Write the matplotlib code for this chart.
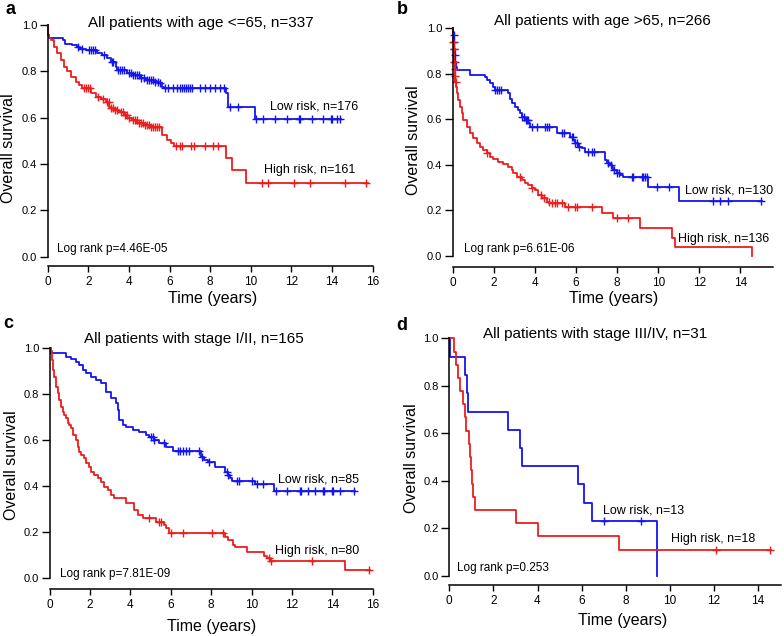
import numpy as np
import matplotlib
matplotlib.use("Agg")
import matplotlib.pyplot as plt

plt.rcParams['font.family'] = ['Liberation Sans', 'DejaVu Sans']

BLUE = "#1414f0"
RED = "#ee1c1c"

# ---- panel a: age <= 65 ----
a_low_t = [0.01, 0.02, 0.03, 0.04, 0.75, 0.85, 1.2, 1.46, 1.6, 1.9, 2.44, 2.69, 2.94, 3.1, 3.35, 3.43,
           3.92, 4.17, 4.58, 4.82, 5.23, 5.48, 5.64, 5.73, 8.8, 8.9, 10.21]
a_low_s = [0.985, 0.97, 0.955, 0.945, 0.935, 0.92, 0.915, 0.906, 0.898, 0.89, 0.878, 0.871, 0.856, 0.842,
           0.82, 0.806, 0.791, 0.784, 0.77, 0.763, 0.755, 0.748, 0.734, 0.73, 0.705, 0.645, 0.593]
a_low_end = 14.44
a_low_cens = [1.5, 1.7, 2.05, 2.15, 2.25, 2.35, 2.75, 3.15, 3.2, 3.45, 3.55, 3.65, 3.75, 4.0, 4.1, 4.2,
              4.3, 4.4, 4.5, 4.6, 4.75, 4.9, 5.0, 5.1, 5.2, 5.3, 5.45, 5.55, 5.78, 5.94, 6.19, 6.35,
              6.5, 6.6, 6.7, 6.8, 6.9, 7.0, 7.1, 7.5, 7.74, 7.99, 8.23, 8.48, 8.68, 8.98, 9.35,
              10.26, 10.62, 11.19, 11.77, 12.37, 12.41, 13.0, 13.57, 13.94, 13.98, 14.23, 14.39]
a_high_t = [0.01, 0.02, 0.03, 0.05, 0.15, 0.31, 0.48, 0.64, 0.8, 0.97, 1.13, 1.38, 1.54, 1.71, 2.12,
            2.36, 2.61, 2.86, 3.02, 3.1, 3.27, 3.51, 3.76, 3.92, 4.17, 4.41, 4.74, 5.07, 5.64, 5.89,
            6.06, 6.22, 8.76, 9.06, 9.75]
a_high_s = [0.985, 0.97, 0.955, 0.945, 0.935, 0.906, 0.878, 0.849, 0.82, 0.8, 0.777, 0.755, 0.741,
            0.727, 0.705, 0.691, 0.681, 0.669, 0.647, 0.64, 0.633, 0.626, 0.612, 0.597, 0.59, 0.578,
            0.568, 0.561, 0.525, 0.504, 0.489, 0.478, 0.425, 0.374, 0.319]
a_high_end = 15.78
a_high_cens = [1.8, 1.9, 2.0, 2.1, 2.5, 2.7, 2.9, 3.0, 3.1, 3.2, 3.3, 3.4, 3.6, 3.7, 3.8, 3.9, 4.0,
               4.2, 4.3, 4.4, 4.5, 4.6, 4.7, 4.8, 4.9, 5.0, 5.1, 5.2, 5.3, 5.4, 5.5, 6.3, 6.5, 6.6,
               7.05, 7.2, 7.74, 8.15, 8.4, 10.57, 10.83, 12.14, 12.93, 14.64, 15.66]

# ---- panel b: age > 65 ----
b_low_t = [0.02, 0.04, 0.06, 0.08, 0.1, 0.14, 0.2, 0.83, 1.56, 1.65, 1.8, 1.97, 2.03, 2.7, 2.78, 2.86,
           3.02, 3.18, 3.26, 3.35, 3.51, 3.67, 3.75, 5.05, 5.7, 5.86, 5.94, 6.1, 6.27, 6.43, 7.4, 7.5,
           7.65, 7.75, 7.81, 8.0, 8.15, 8.3, 9.49, 11.03]
b_low_s = [0.97, 0.94, 0.91, 0.88, 0.85, 0.83, 0.816, 0.795, 0.787, 0.772, 0.757, 0.743, 0.728, 0.713,
           0.69, 0.67, 0.655, 0.64, 0.626, 0.611, 0.596, 0.582, 0.567, 0.538, 0.523, 0.509, 0.494,
           0.48, 0.472, 0.458, 0.421, 0.41, 0.4, 0.39, 0.377, 0.365, 0.355, 0.348, 0.304, 0.241]
b_low_end = 15.04
b_low_cens = [0.03, 0.05, 0.07, 0.09, 0.12, 2.05, 2.15, 2.25, 2.35, 3.35, 3.45, 3.55, 3.6, 3.65,
              3.85, 4.1, 4.5, 4.6, 4.7, 5.3, 5.4, 5.8, 5.85, 5.95, 6.05, 6.15, 6.6, 6.75, 6.85,
              7.55, 7.7, 7.85, 8.0, 8.1, 8.7, 8.79, 9.19, 9.27, 9.35, 9.44, 9.92, 10.54, 12.69,
              13.0, 13.42, 15.0]
b_high_t = [0.01, 0.02, 0.03, 0.05, 0.06, 0.08, 0.1, 0.12, 0.14, 0.18, 0.26, 0.34, 0.42, 0.5, 0.67,
            0.83, 0.99, 1.15, 1.32, 1.48, 1.64, 1.8, 1.97, 2.21, 2.45, 2.7, 2.86, 2.94, 3.1, 3.35,
            3.51, 3.67, 3.83, 3.99, 4.15, 4.32, 4.56, 4.7, 5.46, 7.28, 7.8, 9.11, 10.65, 10.81, 14.55]
b_high_s = [0.97, 0.94, 0.91, 0.88, 0.85, 0.82, 0.79, 0.765, 0.743, 0.713, 0.684, 0.655, 0.626,
            0.596, 0.567, 0.538, 0.516, 0.494, 0.48, 0.465, 0.45, 0.436, 0.424, 0.414, 0.404, 0.392,
            0.377, 0.363, 0.348, 0.333, 0.319, 0.311, 0.297, 0.289, 0.268, 0.253, 0.238, 0.231,
            0.216, 0.19, 0.165, 0.121, 0.077, 0.041, 0.0]
b_high_end = 14.55
b_high_cens = [0.02, 0.04, 0.07, 0.09, 0.11, 0.13, 1.68, 3.25, 3.83, 4.3, 4.45, 4.66, 4.82, 4.98,
               5.06, 5.31, 5.62, 5.94, 6.03, 6.76, 7.97, 8.54]

# ---- panel c: stage I/II ----
c_low_t = [0.07, 0.81, 1.06, 1.3, 1.47, 1.63, 1.8, 2.05, 2.3, 2.54, 2.79, 3.04, 3.29, 3.37, 3.45,
           3.62, 3.78, 4.11, 4.44, 4.77, 4.94, 5.19, 5.43, 5.76, 6.09, 7.5, 7.65, 7.83, 8.19, 8.69,
           8.85, 8.93, 9.02, 10.17, 11.11]
c_low_s = [0.98, 0.962, 0.951, 0.94, 0.926, 0.904, 0.89, 0.876, 0.861, 0.847, 0.81, 0.781, 0.76,
           0.731, 0.687, 0.666, 0.656, 0.644, 0.637, 0.622, 0.615, 0.6, 0.586, 0.572, 0.552, 0.528,
           0.514, 0.507, 0.485, 0.463, 0.449, 0.434, 0.424, 0.41, 0.38]
c_low_end = 15.1
c_low_cens = [5.02, 5.1, 5.19, 5.68, 6.34, 6.45, 6.6, 6.75, 6.92, 7.41, 7.55, 7.9, 8.77, 8.85, 9.26,
              9.4, 10.0, 10.25, 10.55, 11.21, 11.77, 12.4, 12.43, 12.81, 13.14, 13.52, 13.59,
              13.97, 14.02, 14.38, 15.08]
c_high_t = [0.05, 0.12, 0.15, 0.23, 0.31, 0.4, 0.48, 0.56, 0.64, 0.73, 0.81, 0.89, 0.97, 1.06, 1.14,
            1.3, 1.39, 1.47, 1.55, 1.72, 1.8, 1.97, 2.05, 2.21, 2.38, 2.54, 2.71, 2.88, 3.04, 3.2,
            3.78, 4.19, 4.36, 4.6, 5.27, 5.68, 5.76, 5.93, 8.69, 8.85, 9.1, 9.2, 9.76, 10.62, 10.75,
            10.92, 14.63]
c_high_s = [0.985, 0.948, 0.904, 0.876, 0.832, 0.803, 0.774, 0.745, 0.724, 0.71, 0.695, 0.673,
            0.666, 0.651, 0.622, 0.6, 0.571, 0.55, 0.535, 0.521, 0.499, 0.485, 0.463, 0.449, 0.434,
            0.42, 0.398, 0.383, 0.362, 0.347, 0.326, 0.297, 0.275, 0.26, 0.246, 0.232, 0.217, 0.195,
            0.181, 0.166, 0.145, 0.137, 0.116, 0.097, 0.087, 0.077, 0.036]
c_high_end = 15.84
c_high_cens = [4.94, 5.4, 5.5, 6.01, 6.59, 8.03, 8.6, 10.88, 10.95, 12.98, 15.79]

# ---- panel d: stage III/IV ----
d_low_t = [0.05, 0.73, 0.8, 0.85, 2.66, 3.22, 3.3, 5.82, 6.09, 6.47, 9.42]
d_low_s = [0.923, 0.846, 0.769, 0.692, 0.615, 0.538, 0.461, 0.385, 0.308, 0.231, 0.0]
d_low_end = 9.42
d_low_cens = [7.02, 8.71]
d_high_t = [0.21, 0.3, 0.38, 0.5, 0.6, 0.7, 0.76, 0.91, 0.95, 1.0, 1.03, 1.06, 1.15, 3.04, 4.02, 7.68]
d_high_s = [0.944, 0.889, 0.833, 0.778, 0.722, 0.667, 0.611, 0.556, 0.5, 0.444, 0.389, 0.333,
            0.278, 0.222, 0.167, 0.111]
d_high_end = 14.57
d_high_cens = [12.08, 14.53]

titles = ["All patients with age <=65, n=337", "All patients with age >65, n=266",
          "All patients with stage I/II, n=165", "All patients with stage III/IV, n=31"]
low_labels = ["Low risk, n=176", "Low risk, n=130", "Low risk, n=85", "Low risk, n=13"]
high_labels = ["High risk, n=161", "High risk, n=136", "High risk, n=80", "High risk, n=18"]
pvals = ["Log rank p=4.46E-05", "Log rank p=6.61E-06", "Log rank p=7.81E-09", "Log rank p=0.253"]
letters = ["a", "b", "c", "d"]

W, H = 784, 636
fig = plt.figure(figsize=(W / 100, H / 100), dpi=100)


def km(ax, t, s, end, cens, color):
    xs = np.array([0] + t + [end])
    ys = np.array([1.0] + s + [s[-1]])
    ax.step(xs, ys, where="post", color=color, lw=1.3, clip_on=False)
    idx = np.searchsorted(np.array(t), np.array(cens), side="right")
    cy = np.array([1.0] + s)[idx]
    ax.plot(cens, cy, ls="none", marker="+", ms=5.5, mew=1.0, color=color, clip_on=False)


# layout in pixels: x0, y(1.0), y(0.0), px per year, x max, bottom spine offset
layout = [
    (47.7, 25.0, 256.7, 20.31, 16.0, 9.3),
    (453.0, 28.0, 256.0, 20.52, 15.58, 10.7),
    (49.7, 348.0, 578.3, 20.19, 16.0, 10.4),
    (449.3, 338.3, 576.0, 22.05, 15.06, 8.7),
]
xticks = [np.arange(0, 17, 2), np.arange(0, 15, 2), np.arange(0, 17, 2), np.arange(0, 15, 2)]
title_pos = [(201, 23), (602, 21), (194, 339), (595, 334)]
xlab_pos = [(213, 298), (614, 298), (212, 626), (623, 620)]
ylab_pos = [(9, 148), (414, 140), (12, 465), (411, 458)]
letter_pos = [(10, 10), (402, 9), (8, 324), (402, 326)]
low_pos = [(10.95, 0.647), (11.29, 0.287), (11.33, 0.428), (6.95, 0.275)]
high_pos = [(10.67, 0.374), (10.96, 0.073), (11.16, 0.117), (10.07, 0.157)]
p_pos = [(0.44, 0.032), (0.52, 0.029), (0.51, 0.019), (0.35, 0.034)]

curves = [
    ((a_low_t, a_low_s, a_low_end, a_low_cens), (a_high_t, a_high_s, a_high_end, a_high_cens)),
    ((b_low_t, b_low_s, b_low_end, b_low_cens), (b_high_t, b_high_s, b_high_end, b_high_cens)),
    ((c_low_t, c_low_s, c_low_end, c_low_cens), (c_high_t, c_high_s, c_high_end, c_high_cens)),
    ((d_low_t, d_low_s, d_low_end, d_low_cens), (d_high_t, d_high_s, d_high_end, d_high_cens)),
]

for i in range(4):
    x0, ytop, ybot, ppy, xmax, off = layout[i]
    ax = fig.add_axes([x0 / W, 1 - ybot / H, xmax * ppy / W, (ybot - ytop) / H])
    ax.set_xlim(0, xmax)
    ax.set_ylim(0, 1)
    for sp in ["top", "right"]:
        ax.spines[sp].set_visible(False)
    ax.spines["left"].set_bounds(0, 1)
    ax.spines["bottom"].set_bounds(0, xmax)
    ax.spines["bottom"].set_position(("outward", off * 0.72))
    for sp in ["left", "bottom"]:
        ax.spines[sp].set_linewidth(1.1)
    ax.set_xticks(xticks[i])
    ax.set_yticks([0, 0.2, 0.4, 0.6, 0.8, 1.0])
    ax.set_yticklabels(["0.0", "0.2", "0.4", "0.6", "0.8", "1.0"])
    ax.tick_params(axis="y", length=5.5, width=1.0, pad=2.2, labelsize=8)
    ax.tick_params(axis="x", length=4.2, width=1.0, pad=3, labelsize=8.5)

    low, high = curves[i]
    km(ax, *low, BLUE)
    km(ax, *high, RED)

    ax.text(low_pos[i][0], low_pos[i][1], low_labels[i], fontsize=9, ha="left", va="center")
    ax.text(high_pos[i][0], high_pos[i][1], high_labels[i], fontsize=9, ha="left", va="center")
    ax.text(p_pos[i][0], p_pos[i][1], pvals[i], fontsize=8.5, ha="left", va="center")

    fig.text(title_pos[i][0] / W, 1 - title_pos[i][1] / H, titles[i], fontsize=11,
             ha="center", va="center")
    fig.text(xlab_pos[i][0] / W, 1 - xlab_pos[i][1] / H, "Time (years)", fontsize=11.5,
             ha="center", va="center")
    fig.text(ylab_pos[i][0] / W, 1 - ylab_pos[i][1] / H, "Overall survival", fontsize=11.5,
             ha="center", va="center", rotation=90)
    fig.text(letter_pos[i][0] / W, 1 - letter_pos[i][1] / H, letters[i], fontsize=13,
             fontweight="bold", ha="center", va="center")

fig.savefig("out.png", dpi=100)
